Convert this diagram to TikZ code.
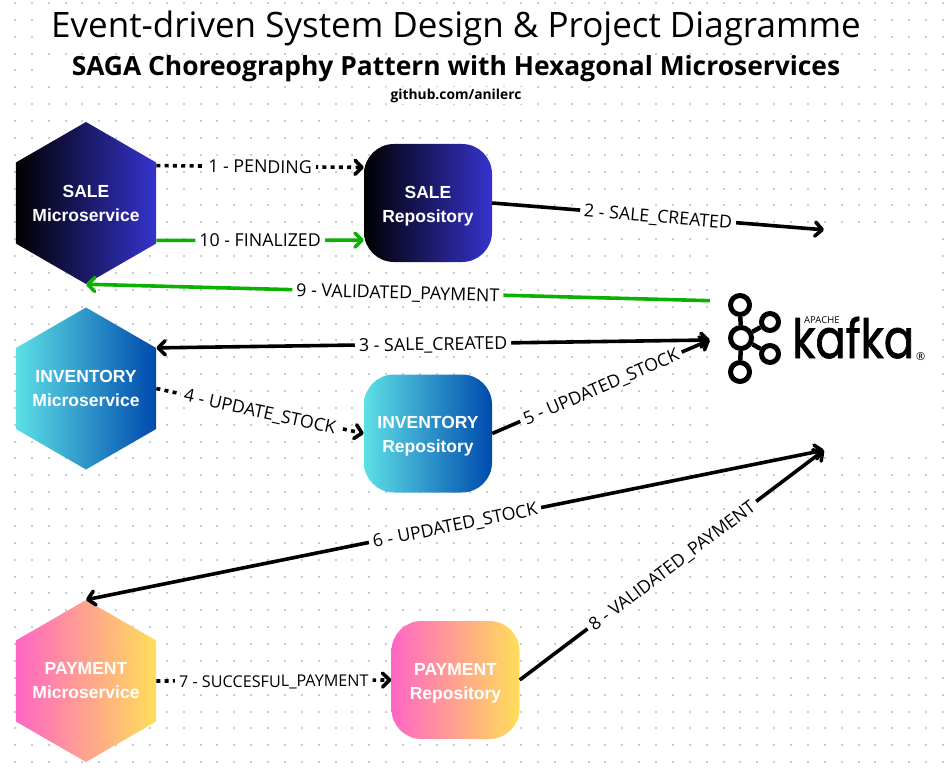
\documentclass[tikz,border=0pt]{standalone}
\usepackage{fontspec}
\usetikzlibrary{arrows.meta,shapes.geometric}
\setmainfont{Open Sans}
\newfontfamily\boxfont{Liberation Sans}
\newfontfamily\logofont[FakeBold=1.5]{Poppins}
\definecolor{griddot}{HTML}{C9CCD8}
\definecolor{flowgreen}{HTML}{0CB000}
\definecolor{saleblue}{HTML}{3533CD}
\definecolor{invcyan}{HTML}{5DE0E6}
\definecolor{invblue}{HTML}{004AAD}
\definecolor{paypink}{HTML}{FF66C4}
\definecolor{payyellow}{HTML}{FFDE59}
\tikzset{
  hexsvc/.style = {regular polygon, regular polygon sides = 6, shape border rotate = 30, minimum size = 162pt, inner sep = 0pt},
  repobox/.style = {rectangle, rounded corners = 30pt, minimum width = 128pt, minimum height = 118pt, inner sep = 0pt},
  boxlabel/.style = {text = white, align = center, inner sep = 0pt, font = \boxfont\bfseries\fontsize{17.5}{24}\selectfont},
  repolabel/.style = {boxlabel, yshift = -3pt},
  gradsale/.style = {left color = black, right color = saleblue},
  gradinv/.style = {left color = invcyan, right color = invblue},
  gradpay/.style = {left color = paypink, right color = payyellow},
  flowline/.style = {line width = 3.6pt, >={Straight Barb[length = 7pt, width = 14pt, round]}},
  dotflow/.style = {flowline, dash pattern = on 4pt off 4.3pt},
  greenflow/.style = {flowline, color = flowgreen},
  flowlabel/.style = {fill = white, text = black, sloped, inner sep = 4pt, text height = 13pt, text depth = 0pt, font = \fontsize{17.8}{20}\selectfont},
  titlebox/.style = {fill = white, inner sep = 0pt, text = black},
  kafkaring/.style = {circle, draw = black, line width = 5pt, inner sep = 0pt, fill = white}
}
\begin{document}
\begin{tikzpicture}[x = 1pt, y = -1pt]
\useasboundingbox (0,0) rectangle (944,770);
\fill[white] (0,0) rectangle (944,770);
\foreach \i in {0,...,55} \foreach \j in {0,...,45} \fill[griddot] (15+\i*16.87-1,3+\j*16.87-1) rectangle (15+\i*16.87+1,3+\j*16.87+1);

\node[titlebox, minimum width = 825pt, minimum height = 34pt, font = \fontsize{35}{38}\selectfont] (maintitle) at (456,28.5) {Event-driven System Design \& Project Diagramme};
\node[titlebox, minimum width = 825pt, minimum height = 20pt, font = \bfseries\fontsize{26.4}{28}\selectfont] (subtitle) at (456,69) {SAGA Choreography Pattern with Hexagonal Microservices};
\node[titlebox, minimum width = 140pt, minimum height = 17pt, font = \bfseries\fontsize{13.8}{15}\selectfont] (repolink) at (456,96) {github.com/anilerc};

\node[hexsvc, gradsale] (salesvc) at (86,203) {};
\node[hexsvc, gradinv] (invsvc) at (86,388.5) {};
\node[hexsvc, gradpay] (paysvc) at (86,681) {};
\node[boxlabel] (salesvctext) at (salesvc) {SALE\\Microservice};
\node[boxlabel] (invsvctext) at (invsvc) {INVENTORY\\Microservice};
\node[boxlabel] (paysvctext) at (paysvc) {PAYMENT\\Microservice};
\node[repobox, gradsale] (salerepo) at (428,203) {};
\node[repobox, gradinv] (invrepo) at (428,433.5) {};
\node[repobox, gradpay] (payrepo) at (455.5,680) {};
\node[repolabel] (salerepotext) at (salerepo) {SALE\\Repository};
\node[repolabel] (invrepotext) at (invrepo) {INVENTORY\\Repository};
\node[repolabel] (payrepotext) at (payrepo) {PAYMENT\\Repository};

\node[fill = white, minimum width = 228pt, minimum height = 220pt, inner sep = 0pt] (kafkabox) at (824,340) {};
\node[kafkaring, minimum size = 19pt] (kafkatop) at (740,305) {};
\node[kafkaring, minimum size = 21pt] (kafkamid) at (741,338) {};
\node[kafkaring, minimum size = 19pt] (kafkabot) at (740,372) {};
\node[kafkaring, minimum size = 17pt] (kafkaup) at (770,322) {};
\node[kafkaring, minimum size = 17pt] (kafkalow) at (770,354) {};
\draw[line width = 4.5pt] (kafkatop) -- (kafkamid);
\draw[line width = 4.5pt] (kafkamid) -- (kafkabot);
\draw[line width = 4.5pt] (kafkamid) -- (kafkaup);
\draw[line width = 4.5pt] (kafkamid) -- (kafkalow);
\node[anchor = base west, inner sep = 0pt, yscale = 1.2, transform shape, font = \logofont\fontsize{45}{47}\selectfont] (kafkaword) at (792,358) {kafka};
\node[anchor = base west, inner sep = 0pt, font = \fontsize{9.5}{10}\selectfont] (kafkaapache) at (804,323) {APACHE};
\node[anchor = base west, inner sep = 0pt, font = \fontsize{11}{12}\selectfont] (kafkamark) at (916,360) {®};

\draw[dotflow, ->] (salesvc.28) -- node[flowlabel] {1 - PENDING} (salerepo.151);
\draw[flowline, ->] (salerepo.east) -- node[flowlabel] {2 - SALE\_CREATED} (kafkabox.north);
\draw[flowline, <->] (invsvc.corner 6) -- node[flowlabel] {3 - SALE\_CREATED} (kafkabox.west);
\draw[dotflow, ->] (invsvc.east) -- node[flowlabel] {4 - UPDATE\_STOCK} (invrepo.west);
\draw[flowline, ->] (invrepo.east) -- node[flowlabel] {5 - UPDATED\_STOCK} (kafkabox.west);
\draw[flowline, <->] (paysvc.corner 1) -- node[flowlabel] {6 - UPDATED\_STOCK} (kafkabox.south);
\draw[dotflow, ->] (paysvc.east) -- node[flowlabel, font = \fontsize{16.2}{18}\selectfont] {7 - SUCCESFUL\_PAYMENT} (payrepo.west);
\draw[flowline, ->] (payrepo.east) -- node[flowlabel] {8 - VALIDATED\_PAYMENT} (kafkabox.south);
\draw[greenflow, ->] (kafkabox.161) -- node[flowlabel] {9 - VALIDATED\_PAYMENT} (salesvc.corner 4);
\draw[greenflow, ->] (salesvc.332) -- node[flowlabel] {10 - FINALIZED} (salerepo.210);
\end{tikzpicture}
\end{document}
